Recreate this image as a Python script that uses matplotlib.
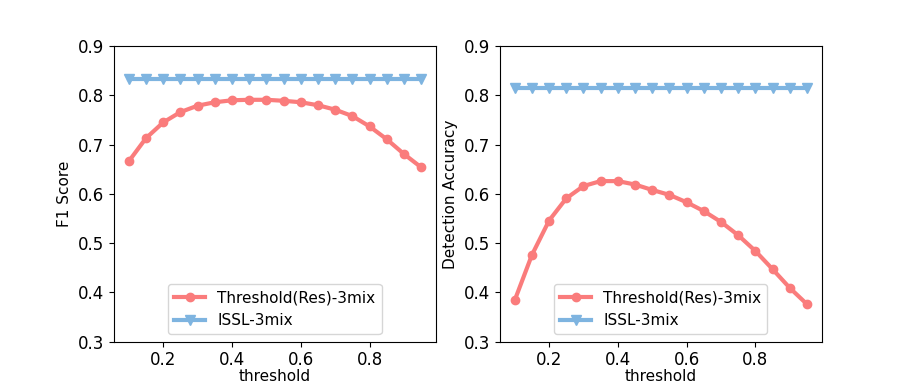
import matplotlib
matplotlib.use("Agg")
import matplotlib.pyplot as plt
import numpy as np

thresholds = [0.10, 0.15, 0.20, 0.25, 0.30, 0.35, 0.40, 0.45, 0.50,
              0.55, 0.60, 0.65, 0.70, 0.75, 0.80, 0.85, 0.90, 0.95]

f1_threshold = [0.666, 0.713, 0.745, 0.766, 0.779, 0.786, 0.790, 0.791, 0.791,
                0.789, 0.786, 0.780, 0.771, 0.758, 0.737, 0.711, 0.681, 0.654]
f1_issl = [0.833] * len(thresholds)

acc_threshold = [0.384, 0.476, 0.546, 0.591, 0.616, 0.626, 0.626, 0.619, 0.608,
                 0.598, 0.583, 0.565, 0.543, 0.516, 0.484, 0.447, 0.409, 0.376]
acc_issl = [0.814] * len(thresholds)

red = '#fa7c7c'
blue = '#7eb4e0'
fs = 12

fig, (ax1, ax2) = plt.subplots(1, 2, figsize=(9.13, 3.84), dpi=100)

panels = [
    (ax1, f1_threshold, f1_issl, 'F1 Score'),
    (ax2, acc_threshold, acc_issl, 'Detection Accuracy'),
]
for ax, res, issl, ylabel in panels:
    ax.plot(thresholds, res, color=red, marker='o', linewidth=3, markersize=6,
            label='Threshold(Res)-3mix')
    ax.plot(thresholds, issl, color=blue, marker='v', linewidth=3, markersize=6.5,
            label='ISSL-3mix')
    ax.set_ylim(0.3, 0.9)
    ax.set_yticks(np.arange(0.3, 0.91, 0.1))
    ax.set_xticks([0.2, 0.4, 0.6, 0.8])
    ax.tick_params(labelsize=fs)
    ax.set_xlabel('threshold', fontsize=fs - 1, labelpad=0)
    ax.set_ylabel(ylabel, fontsize=fs - 1)
    ax.legend(loc='lower center', fontsize=fs - 1)

fig.savefig('out.png')
